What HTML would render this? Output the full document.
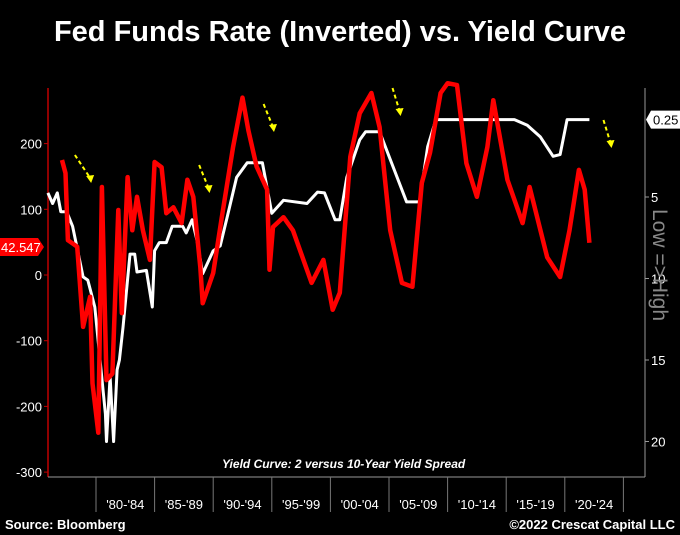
<!DOCTYPE html>
<html><head><meta charset="utf-8">
<style>
body{margin:0;background:#000;width:680px;height:535px;overflow:hidden;font-family:"Liberation Sans",sans-serif;}
svg{display:block}
</style></head>
<body>
<svg id="chart" width="680" height="535" xmlns="http://www.w3.org/2000/svg">
<rect width="680" height="535" fill="#000"/>
<text x="340" y="41" text-anchor="middle" fill="#fff" font-size="29" font-weight="bold">Fed Funds Rate (Inverted) vs. Yield Curve</text>
<text x="5" y="529" fill="#fff" font-size="13" font-weight="bold">Source: Bloomberg</text>
<text x="675" y="529" text-anchor="end" fill="#fff" font-size="13" font-weight="bold">©2022 Crescat Capital LLC</text>
<text x="222" y="468" fill="#fff" font-size="12" font-weight="bold" font-style="italic">Yield Curve: 2 versus 10-Year Yield Spread</text>
<g id="g"></g>
</svg>
<script>
const xTicksYears=[1980,1985,1990,1995,2000,2005,2010,2015,2020,2025];
const xLabels=["'80-'84","'85-'89","'90-'94","'95-'99","'00-'04","'05-'09","'10-'14","'15-'19","'20-'24"];
const leftTicks=[200,100,0,-100,-200,-300];
const rightTicks=[0.25,5,10,15,20];
const spreadYears=[1977.1,1977.4,1977.6,1978.4,1978.9,1979.5,1979.7,1980.2,1980.5,1980.9,1981.4,1981.9,1982.2,1982.7,1983.1,1983.5,1984,1984.6,1985,1985.6,1986,1986.6,1987.3,1987.8,1988.3,1988.9,1989.1,1990,1990.7,1991.7,1992.5,1993,1993.7,1994.6,1994.8,1995.1,1996,1996.8,1998.4,1999.4,2000.2,2000.8,2001.7,2002.5,2003.5,2004.2,2005.1,2006.1,2007,2007.8,2008.5,2009.4,2010,2010.8,2011.6,2012.5,2013.4,2013.9,2015.1,2016.4,2017,2018.5,2019.6,2020.4,2021.2,2021.7,2022.1];
const spreadValues=[175,155,53,43,-79,-33,-165,-240,134,-160,-150,99,-58,149,68,119,68,23,172,164,94,103,79,145,119,12,-43,3,84,195,270,220,165,130,8,73,88,68,-12,23,-53,-27,180,246,277,225,68,-12,-18,140,186,277,292,289,170,119,195,266,145,79,134,27,-3,68,160,130,49];
const fedYears=[1975.9,1976.3,1976.7,1977,1977.5,1978,1978.9,1979.3,1979.9,1980.8,1980.9,1981.2,1981.5,1981.8,1982,1982.3,1982.9,1983.3,1983.5,1984.3,1984.8,1985,1985.4,1986,1986.5,1987.4,1987.7,1988.2,1988.6,1989.1,1990,1990.6,1991.2,1992,1992.9,1994.2,1995,1996,1998,1998.9,1999.5,2000.4,2000.8,2001.4,2002.5,2003,2004.2,2006.5,2007.6,2008.3,2009,2015.7,2016.8,2017.9,2019,2019.6,2020.2,2022.1];
const fedValues=[4.75,5.4,4.75,5.9,5.9,6.8,9.9,10.1,11.75,18.3,20,16,20,15.6,15,13,8.5,8.5,9.6,9.5,11.75,8.3,7.8,7.8,6.8,6.8,7.2,6.4,7.6,9.7,8.3,8.0,6.2,3.8,2.9,2.9,6,5.2,5.4,4.7,4.75,6.4,6.4,3.8,1.5,1.0,1,5.3,5.3,1.9,0.25,0.25,0.6,1.3,2.5,2.4,0.25,0.25];
const arrows=[[1978.2,1979.5],[1988.8,1989.6],[1994.3,1995.1],[2005.3,2005.9],[2023.3,2023.9]];
const arrowTops=[155,165,104,88,120];

const X0=96, XS=11.72;
const xs=yr=>X0+(yr-1980)*XS;
const yl=v=>275-v*0.657;
const yr_=v=>115.5+v*16.3;
const g=document.getElementById('g');
const NS='http://www.w3.org/2000/svg';
function mk(tag,attrs){const e=document.createElementNS(NS,tag);for(const k in attrs)e.setAttribute(k,attrs[k]);g.appendChild(e);return e;}

let e;
e=mk('line',{x1:48,y1:88,x2:48,y2:477,stroke:'#c00000','stroke-width':1.5});


e=mk('line',{x1:48,y1:477,x2:645,y2:477,stroke:'#999','stroke-width':1});


e=mk('line',{x1:645,y1:88,x2:645,y2:477,stroke:'#999','stroke-width':1});



xTicksYears.forEach(yr=>{
  const t=mk('line',{x1:xs(yr),y1:477,x2:xs(yr),y2:512,stroke:'#777','stroke-width':1});
  
  
});
xLabels.forEach((l,i)=>{
  const t=mk('text',{x:(xs(xTicksYears[i])+xs(xTicksYears[i+1]))/2,y:509,'text-anchor':'middle',fill:'#fff','font-size':13});
  t.textContent=l;
  
  
});
leftTicks.forEach(v=>{
  const t=mk('line',{x1:44,y1:yl(v),x2:48,y2:yl(v),stroke:'#c00000'});
  
  
  const l=mk('text',{x:42,y:yl(v)+5,'text-anchor':'end',fill:'#fff','font-size':13});
  l.textContent=v;
  
  
});
rightTicks.forEach(v=>{
  if(v===0.25)return;
  const t=mk('line',{x1:645,y1:yr_(v),x2:649,y2:yr_(v),stroke:'#999'});
  
  
  const l=mk('text',{x:651,y:yr_(v)+5,fill:'#fff','font-size':13});
  l.textContent=v;
  
  
});

const fedPts=fedYears.map((y,i)=>xs(y).toFixed(1)+','+yr_(fedValues[i]).toFixed(1)).join(' ');
e=mk('polyline',{points:fedPts,fill:'none',stroke:'#fff','stroke-width':3,'stroke-linejoin':'round'});


const spPts=spreadYears.map((y,i)=>xs(y).toFixed(1)+','+yl(spreadValues[i]).toFixed(1)).join(' ');
e=mk('polyline',{points:spPts,fill:'none',stroke:'#ff0000','stroke-width':4.5,'stroke-linejoin':'round'});



arrows.forEach((a,i)=>{
  const x1=xs(a[0]),x2=xs(a[1]),y1=arrowTops[i],y2=arrowTops[i]+27;
  const l=mk('line',{x1:x1,y1:y1,x2:x2,y2:y2-4,stroke:'#ffff00','stroke-width':2,'stroke-dasharray':'4,3'});
  
  
  const h=mk('polygon',{points:`${x2-4},${y2-6} ${x2+4},${y2-7} ${x2+1},${y2+1}`,fill:'#ffff00'});
  
  
});

// last value badges
const lastSp=spreadValues[spreadValues.length-1];
const by=yl(42.547);
e=mk('polygon',{points:`0,${by-9} 38,${by-9} 44,${by} 38,${by+9} 0,${by+9}`,fill:'#ff0000'});


e=mk('text',{x:1,y:by+5,fill:'#fff','font-size':13});
e.textContent='42.547';


const ry=yr_(0.25);
e=mk('polygon',{points:`646,${ry} 651,${ry-9} 680,${ry-9} 680,${ry+9} 651,${ry+9}`,fill:'#fff'});


e=mk('text',{x:653,y:ry+5,fill:'#000','font-size':13});
e.textContent='0.25';



e=mk('text',{x:0,y:0,fill:'#888','font-size':21,'text-anchor':'middle',transform:'translate(653,265) rotate(90)'});
e.textContent='Low =>High';


</script>
</body></html>
